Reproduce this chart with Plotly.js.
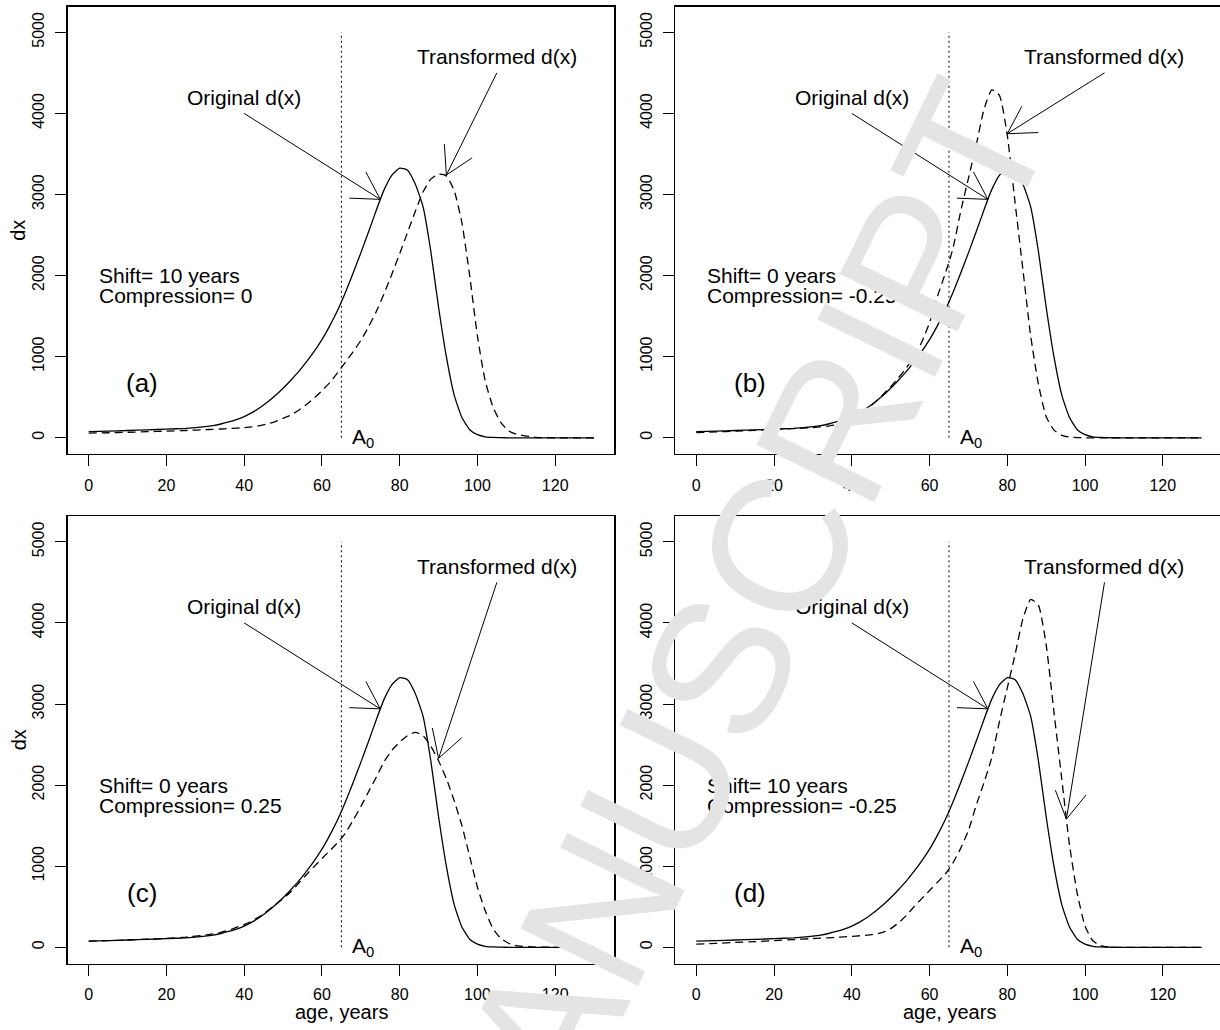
<!DOCTYPE html>
<html><head><meta charset="utf-8">
<script src="https://cdn.plot.ly/plotly-3.0.1.min.js"></script>
<style>html,body{margin:0;padding:0;background:#fff}#chart{width:1220px;height:1030px}</style>
</head><body><div id="chart"></div>
<script>
// ---------------- data ----------------
const ages = [0,5,10,15,20,25,30,32,34,36,38,40,42,44,46,48,50,52,54,56,58,60,62,64,66,68,70,72,74,76,78,80,82,84,86,88,90,92,94,96,98,100,102,104,106,108,110,115,120,125,130];
const dxOriginal = [75,82,90,98,106,117,137,150,170,195,225,262,310,370,440,520,610,710,815,935,1065,1210,1380,1570,1790,2030,2280,2540,2810,3060,3240,3325,3300,3130,2850,2300,1610,1000,530,250,100,38,12,4,1,0,0,0,0,0,0];
const dxShift10 = [58,62,68,75,82,90,100,104,108,113,118,125,135,150,170,200,240,280,340,410,490,580,680,800,930,1060,1200,1370,1560,1780,2020,2270,2530,2790,3030,3190,3250,3230,3050,2650,2000,1250,700,380,190,85,45,5,0,0,0];
const dxComprMinus = [65,72,82,92,102,112,125,135,145,160,175,195,260,350,440,530,630,740,860,1000,1180,1420,1740,2020,2330,2790,3200,3610,4050,4290,4220,3730,2900,2080,1260,660,260,95,30,8,2,0,0,0,0,0,0,0,0,0,0];
const dxComprPlus = [75,82,90,100,110,125,150,165,185,210,245,280,325,380,450,525,600,685,790,895,995,1095,1190,1290,1405,1565,1735,1920,2100,2290,2430,2530,2610,2650,2610,2480,2300,2080,1810,1500,1120,740,450,230,110,50,20,3,0,0,0];
const dxShift10ComprMinus = [40,48,60,70,82,95,108,112,117,122,128,135,142,150,162,185,230,300,390,500,600,700,800,900,1040,1220,1440,1750,2030,2340,2790,3200,3610,4050,4290,4220,3730,2900,2080,1260,660,260,80,20,3,0,0,0,0,0,0];

const panelLabels = ['(a)','(b)','(c)','(d)'];
const shiftTexts = ['Shift= 10 years','Shift= 0 years','Shift= 0 years','Shift= 10 years'];
const comprTexts = ['Compression= 0','Compression= -0.25','Compression= 0.25','Compression= -0.25'];
const xTicks = [0,20,40,60,80,100,120];
const yTicks = [0,1000,2000,3000,4000,5000];

const a0Age = 65;
const a0Span = [0, 5000];
const origArrowTail = [40, 4000];
const origArrowHead = [75, 2940];
const transArrowTail = [105, 4500];
const transHeadX = [92, 80, 90, 95.2];
const transHeadY = [3240, 3750, 2330, 1580];
const origLabelXY = [40, 4200];
const transLabelXY = [105, 4700];
const infoX = 2.2;
const infoY = [2000, 1750];
const panelLabelXY = [13.7, 670];
const a0LabelXY = [67.3, 0];

const dashedSeries = [dxShift10, dxComprMinus, dxComprPlus, dxShift10ComprMinus];

// ---------------- layout geometry ----------------
const W = 1220, H = 1030;
const colPx = [[67.7, 614.3], [675.3, 1220]];
const rowPx = [[6.7, 454], [516.2, 963.5]];
const pxPerYear = (614.3 - 67.7) / 140.6;
const xRanges = [[-5.4, 135.2], [-5.4, -5.4 + (1220 - 675.3) / pxPerYear]];
const yRange = [-200, 5316];
const FONT = 'Liberation Sans, Arial, sans-serif';

const traces = [];
const annotations = [];
const layout = {
  width: W, height: H,
  margin: {l: 0, r: 0, t: 0, b: 0},
  paper_bgcolor: '#fff', plot_bgcolor: '#fff',
  showlegend: false,
  font: {family: FONT, color: '#000'}
};

function barbs(tail, head, sx, sy) {
  const L = 31, ang = Math.PI / 6;
  const dx = (tail[0] - head[0]) * sx, dy = (tail[1] - head[1]) * sy;
  const n = Math.hypot(dx, dy), ux = dx / n, uy = dy / n;
  const rot = s => {
    const c = Math.cos(s * ang), si = Math.sin(s * ang);
    return [head[0] + L * (ux * c - uy * si) / sx, head[1] + L * (ux * si + uy * c) / sy];
  };
  const b1 = rot(1), b2 = rot(-1);
  return {x: [tail[0], head[0], null, b1[0], head[0], b2[0]],
          y: [tail[1], head[1], null, b1[1], head[1], b2[1]]};
}

for (let p = 0; p < 4; p++) {
  const col = p % 2, row = Math.floor(p / 2);
  const sfx = p === 0 ? '' : String(p + 1);
  const xr = 'x' + sfx, yr = 'y' + sfx;
  const cx = colPx[col], ry = rowPx[row];
  const xRange = xRanges[col];
  const sx = (cx[1] - cx[0]) / (xRange[1] - xRange[0]);
  const sy = (ry[1] - ry[0]) / (yRange[1] - yRange[0]);

  layout['xaxis' + sfx] = {
    domain: [cx[0] / W, cx[1] / W], range: xRange, anchor: yr,
    showgrid: false, zeroline: false, showline: true, mirror: true,
    linecolor: '#000', linewidth: 1.3,
    ticks: 'outside', ticklen: 11, tickwidth: 1, tickcolor: '#000',
    tickmode: 'array', tickvals: xTicks, ticktext: xTicks.map(String),
    tickfont: {family: FONT, size: 16, color: '#000'},
    ticklabelstandoff: 5, fixedrange: true
  };
  layout['yaxis' + sfx] = {
    domain: [1 - ry[1] / H, 1 - ry[0] / H], range: yRange, anchor: xr,
    showgrid: false, zeroline: false, showline: true, mirror: true,
    linecolor: '#000', linewidth: 1.3,
    ticks: 'outside', ticklen: 11, tickwidth: 1, tickcolor: '#000',
    tickmode: 'array', tickvals: yTicks, ticktext: yTicks.map(String),
    tickangle: -90,
    tickfont: {family: FONT, size: 16, color: '#000'},
    ticklabelstandoff: 5, fixedrange: true
  };

  traces.push({x: ages, y: dxOriginal, xaxis: xr, yaxis: yr, type: 'scatter', mode: 'lines',
    line: {color: '#000', width: 1.3, shape: 'spline', smoothing: 0.5}, hoverinfo: 'skip'});
  traces.push({x: ages, y: dashedSeries[p], xaxis: xr, yaxis: yr, type: 'scatter', mode: 'lines',
    line: {color: '#000', width: 1.3, dash: '8px,5px', shape: 'spline', smoothing: 0.5}, hoverinfo: 'skip'});
  traces.push({x: [a0Age, a0Age], y: a0Span, xaxis: xr, yaxis: yr, type: 'scatter', mode: 'lines',
    line: {color: '#000', width: 1, dash: '2px,3px'}, hoverinfo: 'skip'});
  const a1 = barbs(origArrowTail, origArrowHead, sx, sy);
  traces.push({x: a1.x, y: a1.y, xaxis: xr, yaxis: yr, type: 'scatter', mode: 'lines',
    line: {color: '#000', width: 1}, hoverinfo: 'skip'});
  const a2 = barbs(transArrowTail, [transHeadX[p], transHeadY[p]], sx, sy);
  traces.push({x: a2.x, y: a2.y, xaxis: xr, yaxis: yr, type: 'scatter', mode: 'lines',
    line: {color: '#000', width: 1}, hoverinfo: 'skip'});

  const ann = (x, y, text, size, xanchor) => annotations.push({
    xref: xr, yref: yr, x, y, text, showarrow: false, xanchor: xanchor || 'center', yanchor: 'middle',
    font: {family: FONT, size, color: '#000'}
  });
  ann(origLabelXY[0], origLabelXY[1], 'Original d(x)', 21);
  ann(transLabelXY[0], transLabelXY[1], 'Transformed d(x)', 21);
  ann(infoX, infoY[0], shiftTexts[p], 21, 'left');
  ann(infoX, infoY[1], comprTexts[p], 21, 'left');
  ann(panelLabelXY[0], panelLabelXY[1], panelLabels[p], 26);
  ann(a0LabelXY[0], a0LabelXY[1], 'A<sub>0</sub>', 21, 'left');

  if (col === 0) {
    annotations.push({xref: 'paper', yref: 'paper', x: 18.5 / W, y: 1 - (ry[0] + ry[1]) / 2 / H,
      text: 'dx', textangle: -90, showarrow: false, xanchor: 'center', yanchor: 'middle',
      font: {family: FONT, size: 20, color: '#000'}});
  }
  if (row === 1) {
    annotations.push({xref: 'paper', yref: 'paper', x: (cx[0] + cx[1]) / 2 / W + (col === 1 ? 0.0015 : 0), y: 1 - 1012 / H,
      text: 'age, years', showarrow: false, xanchor: 'center', yanchor: 'middle',
      font: {family: FONT, size: 20, color: '#000'}});
  }
}

// watermark
annotations.push({xref: 'paper', yref: 'paper', x: 484 / W, y: 1 - 1151 / H,
  text: 'ACCEPTED MANUSCRIPT', showarrow: false, textangle: -64,
  xanchor: 'center', yanchor: 'middle',
  font: {family: FONT, size: 190, color: '#e4e4e4'}});

layout.annotations = annotations;
Plotly.newPlot('chart', traces, layout, {staticPlot: true, displayModeBar: false});
</script>
</body></html>
